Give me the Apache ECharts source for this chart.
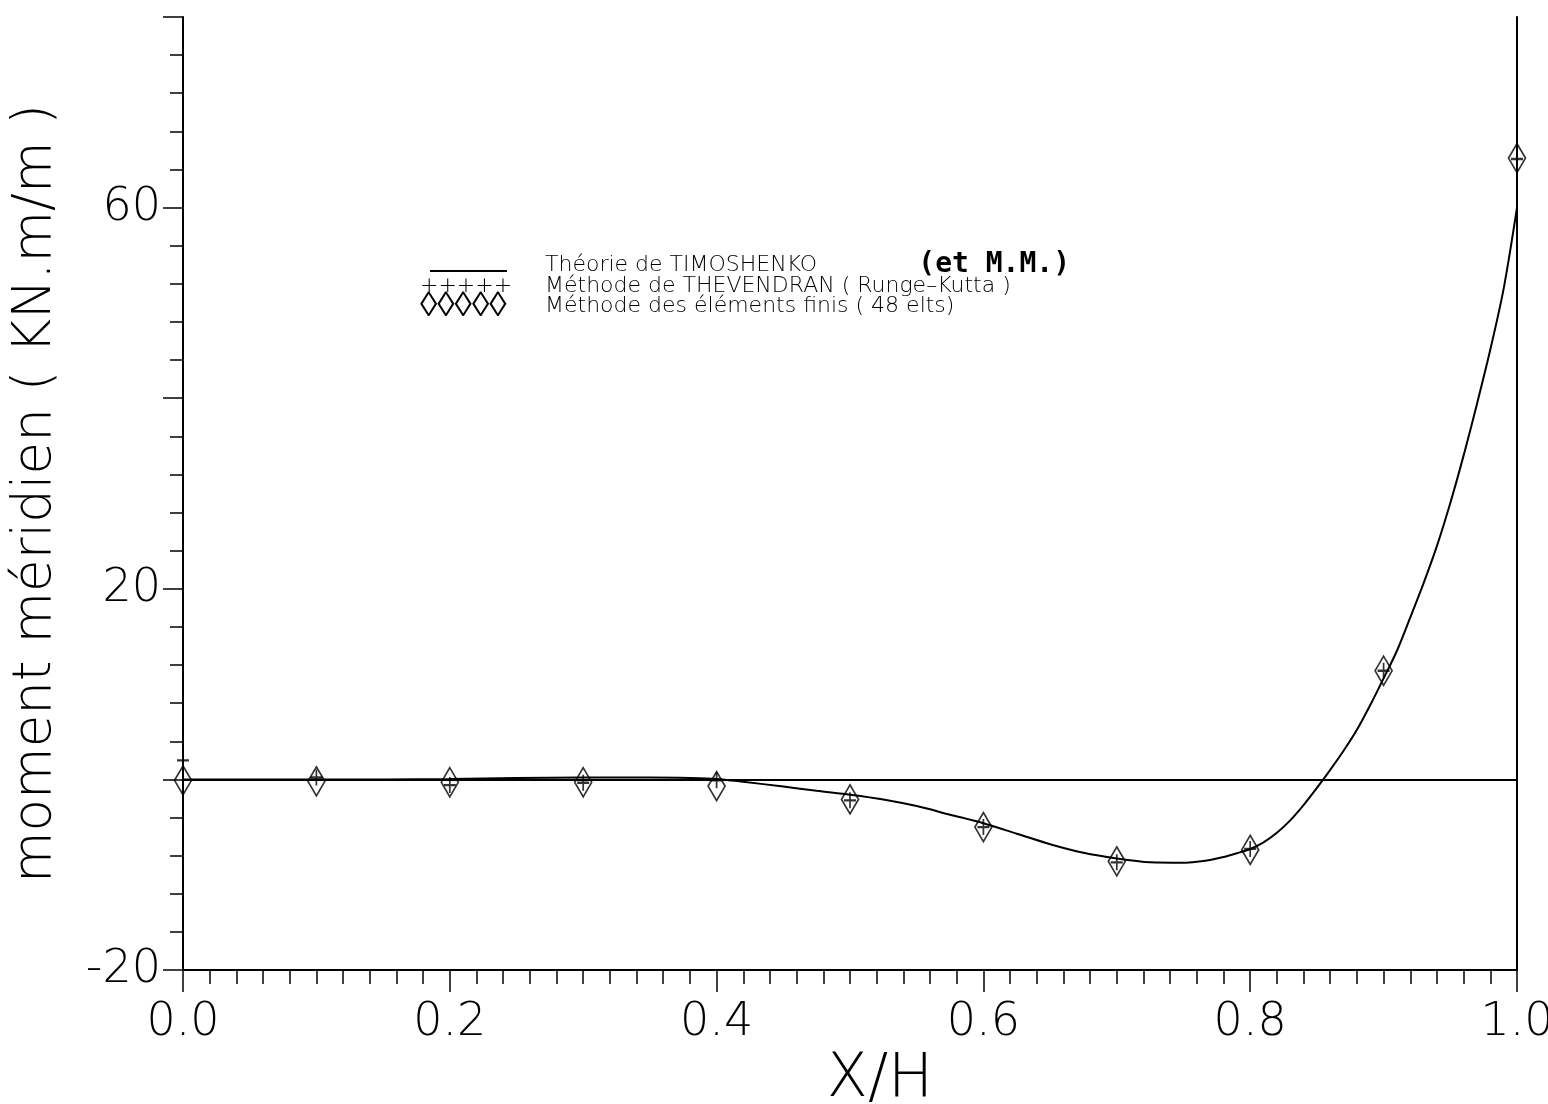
<!DOCTYPE html>
<html><head><meta charset="utf-8">
<script src="https://cdn.jsdelivr.net/npm/echarts@6/dist/echarts.min.js"></script>
<style>html,body{margin:0;padding:0;background:#fff}#c{width:1548px;height:1104px}</style>
</head><body><div id="c"></div>
<script>
// ---- data ----
const xTickLabels = ['0.0', '0.2', '0.4', '0.6', '0.8', '1.0'];
const yTickLabels = ['-20', '20', '60'];
const seriesNames = ['Théorie de TIMOSHENKO', 'Méthode de THEVENDRAN ( Runge–Kutta )', 'Méthode des éléments finis ( 48 elts)'];
const seriesSuffix = ['(et M.M.)', '', ''];
const legendSamples = [' ', '+++++', '◊◊◊◊◊'];
const xTitle = 'X/H';
const yTitle = 'moment méridien ( KN.m/m )';

// Timoshenko theory (continuous curve)
const timoX = [0, 0.05, 0.1, 0.15, 0.2, 0.25, 0.3, 0.35, 0.38, 0.4, 0.42, 0.45, 0.475, 0.5, 0.525, 0.55, 0.575, 0.6, 0.625, 0.65, 0.675, 0.7, 0.725, 0.75, 0.76, 0.77, 0.78, 0.79, 0.8, 0.81, 0.82, 0.83, 0.84, 0.85, 0.86, 0.87, 0.88, 0.89, 0.9, 0.91, 0.92, 0.93, 0.94, 0.95, 0.96, 0.97, 0.98, 0.99, 1.0];
const timoY = [0, 0, 0, 0, 0.05, 0.15, 0.2, 0.2, 0.15, 0.05, -0.25, -0.75, -1.2, -1.6, -2.1, -2.8, -3.7, -4.6, -5.7, -6.8, -7.7, -8.3, -8.7, -8.75, -8.65, -8.45, -8.15, -7.75, -7.3, -6.6, -5.6, -4.3, -2.7, -0.9, 1.0, 3.0, 5.2, 7.8, 10.6, 13.5, 17.0, 20.6, 24.5, 29.0, 34.0, 39.4, 45.1, 51.5, 60];

// discrete methods
const markerX = [0, 0.1, 0.2, 0.3, 0.4, 0.5, 0.6, 0.7, 0.8, 0.9, 1.0];
const thevY = [2.0, 0.2, -0.6, -0.35, -0.1, -2.2, -5.0, -8.7, -7.3, 11.4, 65.1];
const feY = [-0.1, -0.2, -0.3, -0.3, -0.7, -2.1, -5.0, -8.6, -7.4, 11.4, 65.2];

const zip = (a, b) => a.map((v, i) => [v, b[i]]);

const thinFont = "'DejaVu Sans', sans-serif";
const legendTops = [251, 275, 289];

function makeLegend(i) {
  const lh = i === 0 ? 14 : 20;
  return {
    orient: 'vertical', left: 415, top: legendTops[i], itemGap: 0, itemWidth: 0, itemHeight: 0,
    padding: 0, icon: 'none', selectedMode: false,
    data: [seriesNames[i]],
    formatter: function (name) {
      let s;
      if (i === 0) s = '{g| }{s0|' + legendSamples[0] + '}{g2| }';
      else s = '{s' + i + '|' + legendSamples[i] + '}';
      s += '{t|' + name + '}';
      if (seriesSuffix[i]) s += '{m|      ' + seriesSuffix[i] + '}';
      return s;
    },
    textStyle: {
      color: '#000', fontFamily: thinFont, fontWeight: 200, fontSize: 22, lineHeight: lh,
      rich: {
        g: { width: 10, fontSize: 4, lineHeight: lh },
        s0: { width: 77, height: 2, fontSize: 2, backgroundColor: '#000', verticalAlign: 'bottom', lineHeight: lh },
        g2: { width: 38, fontSize: 4, lineHeight: lh },
        s1: { width: 125, fontFamily: thinFont, fontWeight: 200, fontSize: 22, color: '#000', lineHeight: lh },
        s2: { width: 125, fontFamily: thinFont, fontWeight: 200, fontSize: 35, color: '#000', lineHeight: lh },
        t: { fontFamily: thinFont, fontWeight: 200, fontSize: 22, color: '#000', lineHeight: lh },
        m: { fontFamily: "'DejaVu Sans Mono', 'Liberation Mono', monospace", fontWeight: 'bold', fontSize: 28, color: '#000', lineHeight: lh }
      }
    }
  };
}

const chart = echarts.init(document.getElementById('c'), null, { renderer: 'canvas' });
chart.setOption({
  backgroundColor: '#fff',
  animation: false,
  grid: { left: 183, right: 31, top: 17, bottom: 134, containLabel: false, outerBoundsMode: 'none' },
  legend: [makeLegend(0), makeLegend(1), makeLegend(2)],
  xAxis: {
    type: 'value', min: 0, max: 1, interval: 0.2,
    axisLine: { show: true, onZero: false, lineStyle: { color: '#000', width: 2 } },
    axisTick: { show: true, length: 22, lineStyle: { color: '#000', width: 1.5 } },
    minorTick: { show: true, splitNumber: 10, length: 14, lineStyle: { color: '#000', width: 1.5 } },
    splitLine: { show: false }, minorSplitLine: { show: false },
    axisLabel: {
      margin: 30, color: '#000', fontFamily: thinFont, fontWeight: 200, fontSize: 46,
      formatter: v => xTickLabels[Math.round(v / 0.2)]
    },
    name: xTitle, nameLocation: 'middle', nameGap: 76,
    nameTextStyle: { color: '#000', fontFamily: thinFont, fontWeight: 200, fontSize: 60, padding: [0, 0, 0, 60] }
  },
  yAxis: [{
    type: 'value', min: -20, max: 80, interval: 20,
    axisLine: { show: true, onZero: false, lineStyle: { color: '#000', width: 2 } },
    axisTick: { show: true, length: 20, lineStyle: { color: '#000', width: 1.5 } },
    minorTick: { show: true, splitNumber: 5, length: 13, lineStyle: { color: '#000', width: 1.5 } },
    splitLine: { show: false }, minorSplitLine: { show: false },
    axisLabel: {
      margin: 22, color: '#000', fontFamily: thinFont, fontWeight: 200, fontSize: 46,
      formatter: v => (yTickLabels.indexOf(String(v)) >= 0 ? String(v) : '')
    },
    name: yTitle, nameLocation: 'middle', nameGap: 120, nameRotate: 90,
    nameTextStyle: { color: '#000', fontFamily: thinFont, fontWeight: 200, fontSize: 53 }
  }, {
    type: 'value', min: -20, max: 80, position: 'right',
    axisLine: { show: true, onZero: false, lineStyle: { color: '#000', width: 2 } },
    axisTick: { show: false }, axisLabel: { show: false }, splitLine: { show: false }
  }],
  series: [{
    name: seriesNames[0], type: 'line', data: zip(timoX, timoY),
    showSymbol: false, symbol: 'none', smooth: 0.3,
    lineStyle: { color: '#000', width: 2 }, itemStyle: { color: '#000' },
    markLine: {
      silent: true, symbol: 'none', label: { show: false },
      lineStyle: { color: '#000', width: 2, type: 'solid' },
      data: [{ yAxis: 0 }]
    }
  }, {
    name: seriesNames[1], type: 'scatter', data: zip(markerX, thevY), clip: false,
    symbol: 'path://M0,8 L12,8 M6,0 L6,16', symbolSize: [12, 16],
    itemStyle: { color: 'none', borderColor: '#000', borderWidth: 2 }
  }, {
    name: seriesNames[2], type: 'scatter', data: zip(markerX, feY), clip: false,
    symbol: 'diamond', symbolSize: [17, 29],
    itemStyle: { color: 'rgba(0,0,0,0)', borderColor: '#000', borderWidth: 1.8 }
  }]
});
</script>
</body></html>
